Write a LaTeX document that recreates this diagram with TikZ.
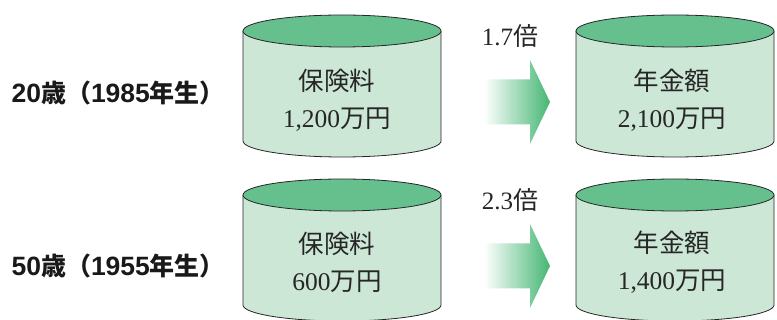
\documentclass[tikz,border=0pt]{standalone}
\usepackage{fontspec}
\setmainfont{Liberation Serif}
\newfontfamily\cjk{Noto Sans CJK JP}
\newfontfamily\labcjk{Noto Sans CJK JP}
\newfontfamily\labsans{Liberation Sans}
\definecolor{cyltop}{HTML}{66C08E}
\definecolor{cylbody}{HTML}{CDE7D6}
\definecolor{arrgreen}{HTML}{45B674}
\tikzset{
  cylline/.style={draw=black!85, line width=0.8pt},
  cyltext/.style={font=\fontsize{25.5}{37}\selectfont, align=center, text=black!85},
  agelabel/.style={font=\bfseries\fontsize{26.5}{30}\selectfont, text=black!90},
  ratiolabel/.style={font=\fontsize{25}{30}\selectfont, text=black!85},
}
\newcommand{\lk}[1]{{\labcjk\fontsize{25}{30}\selectfont #1}}
\newcommand{\cylshape}[3]{% x-left, y-top-center, y-bottom-center
  \fill[cylbody] (#1,#2) -- (#1,#3) arc[start angle=180, end angle=360, x radius=99pt, y radius=16pt] -- (#1+198,#2) -- cycle;
  \draw[cylline] (#1,#2) -- (#1,#3) arc[start angle=180, end angle=360, x radius=99pt, y radius=16pt] -- (#1+198,#2);
  \draw[cylline, fill=cyltop] (#1+99,#2) ellipse[x radius=99pt, y radius=16pt];
}
\newcommand{\bigarrow}[1]{% center y
  \shade[left color=white, right color=arrgreen]
    (484,#1-22.5) -- (530,#1-22.5) -- (530,#1-42) -- (550,#1) -- (530,#1+42) -- (530,#1+22.5) -- (484,#1+22.5) -- cycle;
}
\begin{document}
\begin{tikzpicture}[x=1pt,y=-1pt]
\useasboundingbox (0,0) rectangle (777,320);
% row 1
\cylshape{243}{31}{141}
\cylshape{576}{31}{141}
\bigarrow{102}
% row 2
\cylshape{243}{195}{305}
\cylshape{576}{195}{305}
\bigarrow{266}

\node[agelabel, anchor=west] (age1) at (8,93) {\labsans 20\lk{歳（}1985\lk{年生）}};
\node[agelabel, anchor=west] (age2) at (8,266) {\labsans 50\lk{歳（}1955\lk{年生）}};

\node[cyltext] (prem1) at (337,100) {{\cjk 保険料}\\1,200{\cjk 万円}};
\node[cyltext] (pens1) at (672,100) {{\cjk 年金額}\\2,100{\cjk 万円}};
\node[cyltext] (prem2) at (337,262) {{\cjk 保険料}\\600{\cjk 万円}};
\node[cyltext] (pens2) at (672,262) {{\cjk 年金額}\\1,400{\cjk 万円}};

\node[ratiolabel] (r1) at (510,36) {1.7{\cjk 倍}};
\node[ratiolabel] (r2) at (510,200) {2.3{\cjk 倍}};
\end{tikzpicture}
\end{document}
